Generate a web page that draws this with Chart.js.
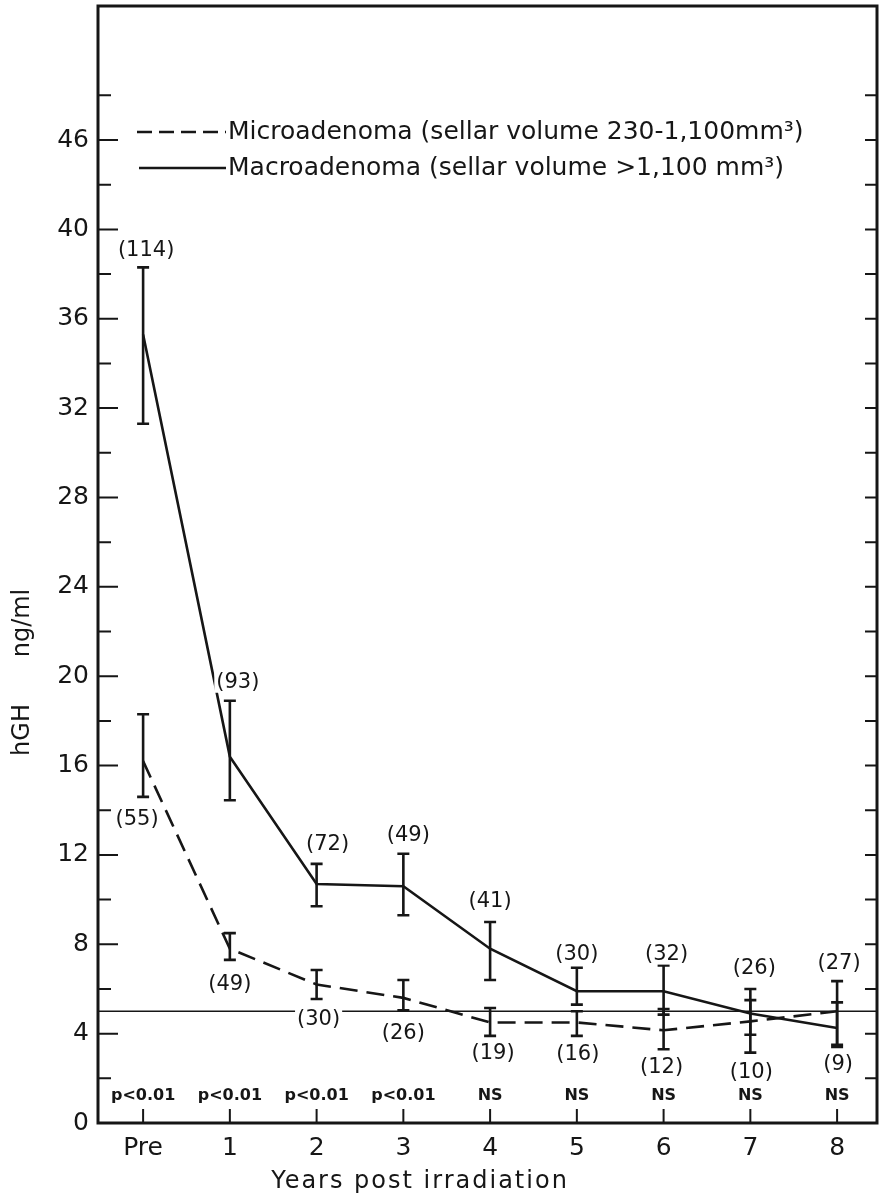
<!DOCTYPE html>
<html><head><meta charset="utf-8">
<script src="https://cdn.jsdelivr.net/npm/chart.js@4.4.1/dist/chart.umd.min.js"></script>
<style>html,body{margin:0;padding:0;background:#fff}#wrap{width:879px;height:1196px}</style>
</head><body><div id="wrap"><canvas id="c" width="879" height="1196"></canvas></div>
<script>
// ---- data ----
const categories = ['Pre','1','2','3','4','5','6','7','8'];
const macroMean  = [35.3, 16.4, 10.7, 10.6, 7.8, 5.9, 5.9, 4.9, 4.25];
const macroUpper = [38.3, 18.9, 11.6, 12.05, 9.0, 6.95, 7.05, 6.0, 6.35];
const macroLower = [31.3, 14.45, 9.7, 9.3, 6.4, 5.3, 4.85, 3.95, 3.5];
const microMean  = [16.2, 7.8, 6.2, 5.6, 4.5, 4.5, 4.15, 4.55, 5.0];
const microUpper = [18.3, 8.5, 6.85, 6.4, 5.15, 5.0, 5.1, 5.5, 5.4];
const microLower = [14.6, 7.3, 5.55, 5.05, 3.9, 3.9, 3.3, 3.15, 3.4];
const macroN = ['(114)','(93)','(72)','(49)','(41)','(30)','(32)','(26)','(27)'];
const microN = ['(55)','(49)','(30)','(26)','(19)','(16)','(12)','(10)','(9)'];
const pValues = ['p<0.01','p<0.01','p<0.01','p<0.01','NS','NS','NS','NS','NS'];
const yTickValues = [0,2,4,6,8,10,12,14,16,18,20,22,24,26,28,30,32,34,36,38,40,42,44,46];
const yTickLabels = {0:'0',4:'4',8:'8',12:'12',16:'16',20:'20',24:'24',28:'28',32:'32',36:'36',40:'40',44:'46'};
const referenceLevel = 5;
const legendLabels = ['Microadenoma (sellar volume 230-1,100mm\u00B3)','Macroadenoma (sellar volume >1,100 mm\u00B3)'];
const xTitle = 'Years post irradiation';
const yTitleParts = ['hGH','ng/ml'];

// ---- style (label offsets in px) ----
const macroLabelDx = [3,8,11,5,0,0,3,4,2];
const macroLabelDy = [-17,-18,-19,-18,-20,-13,-11,-20,-18];
const microLabelDx = [-6,0,2,0,3,1,-2,1,1];
const microLabelDy = [23,25,21,23,18,19,18,20,18];
const INK = '#161616';
const FONT = '"DejaVu Sans", sans-serif';

const toPts = arr => arr.map((v,i)=>({x:i,y:v}));

const decor = {
  id:'decor',
  beforeDatasetsDraw(chart){
    const {ctx, chartArea:a, scales:{y}} = chart;
    ctx.save();
    ctx.strokeStyle = INK; ctx.lineWidth = 1.6;
    const yy = y.getPixelForValue(referenceLevel);
    ctx.beginPath(); ctx.moveTo(a.left, yy); ctx.lineTo(a.right, yy); ctx.stroke();
    ctx.restore();
  },
  afterDatasetsDraw(chart){
    const {ctx, chartArea:a, scales:{x,y}} = chart;
    ctx.save();
    ctx.strokeStyle = INK; ctx.fillStyle = INK; ctx.lineCap='butt';
    // error bars
    const bars = (up, lo) => {
      ctx.lineWidth = 2.6;
      up.forEach((u,i)=>{
        const px = x.getPixelForValue(i);
        const pu = y.getPixelForValue(u), pl = y.getPixelForValue(lo[i]);
        ctx.beginPath();
        ctx.moveTo(px, pu); ctx.lineTo(px, pl);
        ctx.moveTo(px-6, pu); ctx.lineTo(px+6, pu);
        ctx.moveTo(px-6, pl); ctx.lineTo(px+6, pl);
        ctx.stroke();
      });
    };
    bars(macroUpper, macroLower);
    bars(microUpper, microLower);
    // n labels
    ctx.font = '21px ' + FONT; ctx.textAlign='center'; ctx.textBaseline='middle';
    const lab = (txt, cx, cy) => {
      const w = ctx.measureText(txt).width;
      ctx.fillStyle='#fff'; ctx.fillRect(cx-w/2-2, cy-10, w+4, 20);
      ctx.fillStyle=INK; ctx.fillText(txt, cx, cy);
    };
    macroN.forEach((t,i)=>lab(t, x.getPixelForValue(i)+macroLabelDx[i], y.getPixelForValue(macroUpper[i])+macroLabelDy[i]));
    microN.forEach((t,i)=>lab(t, x.getPixelForValue(i)+microLabelDx[i], y.getPixelForValue(microLower[i])+microLabelDy[i]));
    // frame
    ctx.lineWidth = 3;
    ctx.strokeRect(a.left, a.top, a.right-a.left, a.bottom-a.top);
    // y ticks (inward, both sides)
    ctx.lineWidth = 2;
    yTickValues.forEach(v=>{
      const py = y.getPixelForValue(v);
      if (v === 0) return;
      const len = yTickLabels[v] !== undefined ? 20 : 13;
      ctx.beginPath();
      ctx.moveTo(a.left, py); ctx.lineTo(a.left+len, py);
      ctx.moveTo(a.right, py); ctx.lineTo(a.right-12, py);
      ctx.stroke();
    });
    // x ticks (inward)
    categories.forEach((c,i)=>{
      const px = x.getPixelForValue(i);
      ctx.beginPath(); ctx.moveTo(px, a.bottom); ctx.lineTo(px, a.bottom-14); ctx.stroke();
    });
    // p-values
    ctx.font = 'bold 16px ' + FONT; ctx.textAlign='center'; ctx.textBaseline='middle';
    pValues.forEach((t,i)=>ctx.fillText(t, x.getPixelForValue(i), a.bottom-27));
    // legend
    ctx.lineWidth = 2.6;
    ctx.setLineDash([15,7]);
    ctx.beginPath(); ctx.moveTo(137,132); ctx.lineTo(226,132); ctx.stroke();
    ctx.setLineDash([]);
    ctx.beginPath(); ctx.moveTo(139,168); ctx.lineTo(226,168); ctx.stroke();
    ctx.font = '25px ' + FONT; ctx.textAlign='left';
    ctx.fillText(legendLabels[0], 228, 132);
    ctx.fillText(legendLabels[1], 228, 168);
    // x title
    ctx.font = '24px ' + FONT; ctx.textAlign='center';
    ctx.letterSpacing = '2px';
    ctx.fillText(xTitle, 420, 1182);
    ctx.letterSpacing = '0px';
    // y title
    ctx.translate(23, 667); ctx.rotate(-Math.PI/2);
    ctx.font = '24px ' + FONT;
    ctx.fillText(yTitleParts[0], -63, 0);
    ctx.fillText(yTitleParts[1], 44, 0);
    ctx.restore();
  }
};

new Chart(document.getElementById('c'), {
  type:'line',
  data:{datasets:[
    {label:'Macroadenoma', data:toPts(macroMean), borderColor:INK, borderWidth:2.6, pointRadius:0, tension:0, fill:false},
    {label:'Microadenoma', data:toPts(microMean), borderColor:INK, borderWidth:2.6, borderDash:[18,9], pointRadius:0, tension:0, fill:false}
  ]},
  options:{
    responsive:false, animation:false, devicePixelRatio:1,
    layout:{padding:{top:6,right:2,left:0,bottom:0}},
    plugins:{legend:{display:false}, tooltip:{enabled:false}},
    scales:{
      x:{type:'linear', min:-0.52, max:8.46,
        afterBuildTicks(s){ s.ticks = categories.map((c,i)=>({value:i})); },
        afterFit(s){ s.height = 73; s.paddingLeft = 0; s.paddingRight = 0; },
        grid:{display:false, drawTicks:false}, border:{display:false},
        ticks:{callback:v=>categories[v], autoSkip:false, maxRotation:0, padding:10, color:INK, font:{size:25, family:FONT}}
      },
      y:{min:0, max:50,
        afterBuildTicks(s){ s.ticks = yTickValues.map(v=>({value:v})); },
        afterFit(s){ s.width = 98; s.paddingTop = 0; s.paddingBottom = 0; },
        grid:{display:false, drawTicks:false}, border:{display:false},
        ticks:{callback:v=> (yTickLabels[v] !== undefined ? yTickLabels[v] : ''), autoSkip:false, padding:9, color:INK, font:{size:25, family:FONT}}
      }
    }
  },
  plugins:[decor]
});
</script></body></html>
